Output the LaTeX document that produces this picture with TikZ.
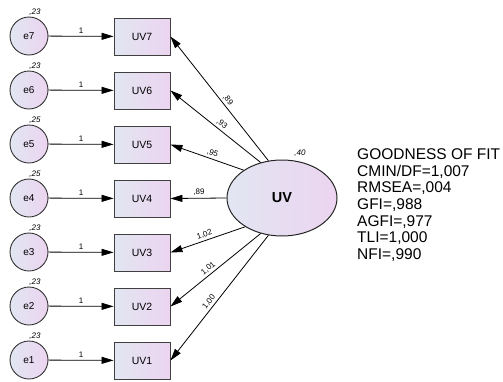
\documentclass[tikz,border=0pt]{standalone}
\usepackage{fontspec}
\setmainfont{Liberation Sans}
\usetikzlibrary{arrows.meta,shapes.geometric}
\definecolor{gA}{RGB}{226,230,242}
\definecolor{gB}{RGB}{236,212,240}
\tikzset{
  obs/.style={draw=black!75, line width=0.9pt, minimum width=56pt, minimum height=37pt,
    left color=gA, right color=gB, inner sep=0pt, font=\fontsize{10.5}{12}\selectfont},
  err/.style={circle, draw=black!80, line width=0.9pt, minimum size=38pt,
    left color=gA, right color=gB, inner sep=0pt, font=\fontsize{10}{12}\selectfont},
  lat/.style={ellipse, draw=black!85, line width=1pt, minimum width=110pt, minimum height=76pt,
    left color=gA, right color=gB, inner sep=0pt, font=\bfseries\fontsize{14.5}{16}\selectfont},
  arr/.style={-{Triangle[length=12pt,width=7pt]}, line width=0.8pt},
  varlab/.style={font=\itshape\fontsize{8}{9}\selectfont, inner sep=0pt},
  wlab/.style={font=\fontsize{8}{9}\selectfont, inner sep=0pt, outer sep=2.5pt},
  fitlab/.style={font=\fontsize{15.5}{17}\selectfont, inner sep=0pt, anchor=base west},
}
\begin{document}
\begin{tikzpicture}[x=1pt,y=-1pt]
\useasboundingbox (0,0) rectangle (503,381);
% latent
\node[lat] (uv) at (282,198) {UV};
\node[varlab] (uvvar) at (300,153) {,40};
% observed and errors
\foreach \i/\yy/\v in {7/36/23, 6/90/23, 5/144/25, 4/198/25, 3/252/23, 2/306/23, 1/360/23}{
  \node[err] (e\i) at (29,\yy) {e\i};
  \node[obs] (b\i) at (142,\yy+0.5) {UV\i};
  \node[varlab] (v\i) at (35,\yy-24) {,\v};
  \draw[arr] (e\i) -- node[wlab, above, pos=0.5] {1} (b\i);
}
% loadings
\draw[arr] (uv.110) -- node[wlab, sloped, above, pos=0.46] {,89} (b7.east);
\draw[arr] (uv.121) -- node[wlab, sloped, above, pos=0.47] {,93} (b6.east);
\draw[arr] (uv.144) -- node[wlab, sloped, above, pos=0.45] {,95} (b5.east);
\draw[arr] (uv.180) -- node[wlab, sloped, above, pos=0.49] {,89} (b4.east);
\draw[arr] (uv.218) -- node[wlab, sloped, above, pos=0.52] {1,02} (b3.east);
\draw[arr] (uv.239) -- node[wlab, sloped, above, pos=0.54] {1,01} (b2.east);
\draw[arr] (uv.250) -- node[wlab, sloped, above, pos=0.56] {1,00} (b1.east);
% fit indices
\node[fitlab] (f1) at (357,159.3) {GOODNESS OF FIT};
\node[fitlab] (f2) at (357,176.0) {CMIN/DF=1,007};
\node[fitlab] (f3) at (357,192.7) {RMSEA=,004};
\node[fitlab] (f4) at (357,209.4) {GFI=,988};
\node[fitlab] (f5) at (357,226.1) {AGFI=,977};
\node[fitlab] (f6) at (357,242.8) {TLI=1,000};
\node[fitlab] (f7) at (357,259.5) {NFI=,990};
\end{tikzpicture}
\end{document}
